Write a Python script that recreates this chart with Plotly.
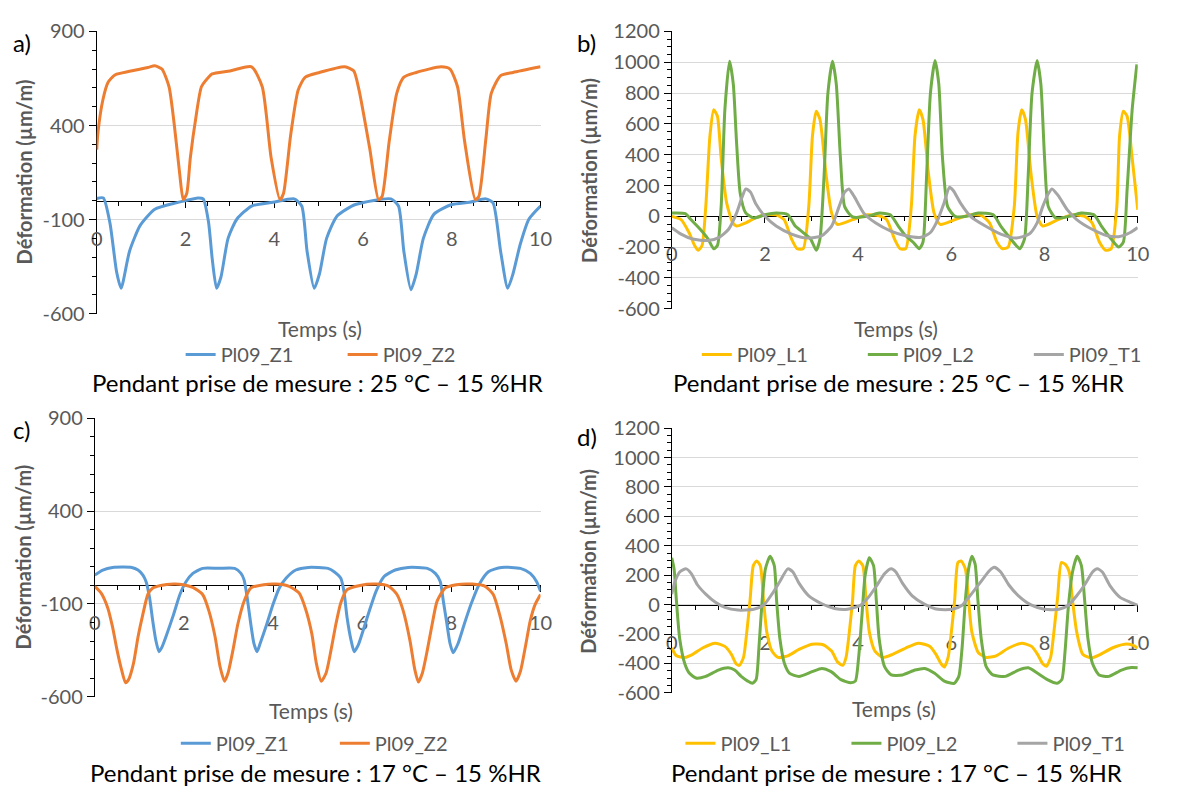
import plotly.graph_objects as go

# ---------------- DATA ----------------
# Panel a : 25 °C – 15 %HR
a_z1_t = [0, 0.15, 0.3, 0.45, 0.55, 0.74, 0.98, 1.31, 1.79, 1.95, 2.28, 2.4, 2.52, 2.6, 2.7, 2.8, 2.96, 3.16, 3.49, 3.97, 4.45, 4.62, 4.74, 4.9, 5.02, 5.18, 5.42, 5.83, 6.63, 6.8, 6.92, 7.08, 7.2, 7.36, 7.6, 8.0, 8.4, 8.77, 8.93, 9.1, 9.26, 9.38, 9.54, 9.74, 10]
a_z1_v = [12, 15, -120, -380, -465, -268, -131, -45, -11, -2, 15, 10, -114, -302, -465, -405, -200, -97, -28, -8, 10, -28, -268, -465, -388, -200, -80, -20, 10, -28, -268, -473, -388, -200, -71, -20, -8, 10, -11, -268, -465, -388, -234, -97, -28]
a_z2_t = [0, 0.03, 0.14, 0.26, 0.42, 0.74, 1.15, 1.31, 1.47, 1.63, 1.75, 1.87, 1.95, 2.03, 2.11, 2.24, 2.36, 2.52, 2.6, 3.0, 3.49, 3.73, 3.93, 4.13, 4.21, 4.37, 4.54, 4.7, 5.02, 5.59, 5.79, 5.91, 6.15, 6.35, 6.43, 6.59, 6.76, 6.92, 7.2, 7.76, 7.96, 8.13, 8.29, 8.53, 8.61, 8.77, 8.89, 9.1, 9.38, 10]
a_z2_v = [272, 366, 537, 631, 670, 688, 708, 717, 700, 606, 400, 143, 6, 40, 229, 451, 606, 657, 674, 690, 712, 606, 229, 6, 40, 349, 589, 657, 682, 712, 691, 589, 280, 6, 23, 315, 571, 657, 682, 712, 700, 606, 315, 6, 23, 332, 571, 665, 682, 712]

# Panel b : 25 °C – 15 %HR
b_l1_t = [0, 0.2, 0.37, 0.49, 0.57, 0.65, 0.73, 0.82, 0.9, 0.98, 1.06, 1.18, 1.31, 1.39, 1.59, 1.8, 2.0, 2.24, 2.41, 2.57, 2.69, 2.82, 2.94, 3.02, 3.1, 3.18, 3.31, 3.43, 3.55, 3.88, 4.2, 4.45, 4.61, 4.78, 4.9, 5.02, 5.14, 5.22, 5.31, 5.39, 5.51, 5.63, 5.76, 6.08, 6.41, 6.65, 6.82, 6.98, 7.1, 7.22, 7.35, 7.43, 7.51, 7.59, 7.71, 7.84, 7.96, 8.29, 8.61, 8.86, 9.02, 9.18, 9.31, 9.43, 9.55, 9.61, 9.69, 9.77, 9.88, 10]
b_l1_v = [0, -21, -105, -189, -220, -189, 63, 524, 692, 650, 378, 84, -42, -63, -42, -10, 10, 10, -21, -147, -210, -210, 63, 524, 682, 629, 273, 21, -52, -21, 10, 4, -21, -147, -210, -210, 63, 524, 692, 629, 273, 21, -52, -21, 10, 4, -42, -168, -210, -199, 63, 545, 692, 629, 273, 0, -63, -21, 10, 0, -42, -168, -220, -210, 63, 524, 682, 650, 378, 42]
b_l2_t = [0, 0.29, 0.41, 0.61, 0.78, 0.9, 0.98, 1.06, 1.14, 1.24, 1.32, 1.39, 1.47, 1.59, 1.76, 2.0, 2.24, 2.49, 2.65, 2.82, 2.98, 3.1, 3.18, 3.27, 3.35, 3.45, 3.53, 3.62, 3.71, 3.88, 4.2, 4.45, 4.69, 4.86, 5.02, 5.18, 5.31, 5.39, 5.47, 5.55, 5.65, 5.73, 5.81, 5.92, 6.08, 6.33, 6.57, 6.9, 7.06, 7.22, 7.39, 7.47, 7.57, 7.65, 7.73, 7.84, 7.92, 8.0, 8.08, 8.24, 8.53, 8.78, 9.06, 9.22, 9.43, 9.59, 9.69, 9.77, 9.88, 9.98]
b_l2_v = [21, 17, -21, -84, -147, -210, -189, 63, 692, 1007, 860, 483, 147, 21, -10, 10, 21, 10, -63, -105, -147, -220, -147, 273, 797, 1007, 860, 378, 63, -4, 0, 21, 10, -63, -126, -168, -210, -168, 273, 797, 1011, 860, 378, 63, 0, 0, 21, 10, -63, -126, -189, -210, -147, 273, 797, 1011, 860, 378, 63, -10, 0, 21, 10, -63, -147, -199, -168, 168, 692, 986]
b_t1_t = [0, 0.2, 0.45, 0.78, 1.02, 1.22, 1.39, 1.51, 1.59, 1.69, 1.8, 2.0, 2.24, 2.57, 2.9, 3.22, 3.43, 3.59, 3.71, 3.8, 3.92, 4.12, 4.37, 4.69, 5.02, 5.35, 5.55, 5.71, 5.84, 5.96, 6.04, 6.2, 6.41, 6.73, 7.06, 7.39, 7.67, 7.84, 7.96, 8.08, 8.16, 8.29, 8.49, 8.69, 9.02, 9.35, 9.59, 9.84, 10]
b_t1_v = [-73, -115, -147, -157, -136, -84, 21, 126, 178, 157, 84, 0, -63, -115, -141, -126, -63, 63, 157, 178, 126, 21, -42, -94, -126, -136, -105, -21, 84, 189, 168, 84, 0, -63, -115, -141, -115, -42, 63, 147, 178, 136, 42, -21, -84, -126, -132, -105, -73]

# Panel c : 17 °C – 15 %HR
c_z1_t = [0, 0.18, 0.4, 0.83, 0.97, 1.08, 1.15, 1.23, 1.3, 1.37, 1.44, 1.51, 1.62, 1.77, 1.91, 2.05, 2.2, 2.42, 2.78, 3.14, 3.28, 3.35, 3.42, 3.5, 3.57, 3.64, 3.71, 3.86, 4.0, 4.14, 4.29, 4.51, 4.79, 5.23, 5.37, 5.52, 5.59, 5.66, 5.75, 5.82, 5.91, 6.02, 6.16, 6.31, 6.49, 6.74, 7.03, 7.46, 7.64, 7.75, 7.82, 7.9, 7.97, 8.04, 8.15, 8.29, 8.44, 8.62, 8.83, 9.12, 9.55, 9.77, 9.91, 10]
c_z1_v = [56, 83, 97, 97, 83, 56, 21, -67, -190, -296, -357, -331, -261, -155, -49, 21, 65, 92, 92, 92, 65, 30, -67, -208, -313, -357, -313, -208, -102, -14, 39, 83, 97, 92, 74, 39, -32, -173, -296, -357, -322, -243, -137, -32, 48, 83, 97, 92, 65, 21, -85, -208, -313, -363, -313, -208, -102, 4, 74, 97, 92, 65, 21, -32]
c_z2_t = [0, 0.14, 0.29, 0.4, 0.5, 0.6, 0.69, 0.76, 0.87, 0.97, 1.08, 1.19, 1.3, 1.48, 1.77, 1.98, 2.2, 2.42, 2.56, 2.7, 2.81, 2.91, 2.99, 3.1, 3.21, 3.35, 3.5, 3.79, 4.07, 4.36, 4.58, 4.72, 4.87, 4.97, 5.08, 5.19, 5.3, 5.41, 5.52, 5.66, 5.95, 6.31, 6.6, 6.78, 6.92, 7.07, 7.18, 7.26, 7.35, 7.46, 7.57, 7.68, 7.86, 8.11, 8.47, 8.76, 8.94, 9.08, 9.23, 9.34, 9.45, 9.55, 9.66, 9.77, 9.88, 10]
c_z2_v = [-5, -40, -120, -225, -349, -454, -525, -507, -419, -278, -155, -49, -14, 0, 7, 4, -11, -49, -137, -278, -437, -516, -472, -349, -208, -85, -14, 4, 7, -5, -40, -120, -261, -419, -516, -472, -349, -208, -93, -23, 0, 7, -5, -49, -137, -296, -454, -521, -472, -349, -208, -85, -14, 4, 7, -5, -49, -155, -313, -454, -516, -463, -331, -190, -102, -49]

# Panel d : 17 °C – 15 %HR
d_l1_t = [0, 0.1, 0.28, 0.45, 0.66, 0.93, 1.14, 1.28, 1.38, 1.45, 1.54, 1.61, 1.68, 1.75, 1.82, 1.9, 1.97, 2.04, 2.15, 2.28, 2.49, 2.73, 3.01, 3.25, 3.43, 3.56, 3.67, 3.74, 3.81, 3.88, 3.94, 4.01, 4.1, 4.17, 4.24, 4.36, 4.53, 4.74, 5.02, 5.29, 5.54, 5.67, 5.78, 5.85, 5.93, 6.0, 6.07, 6.14, 6.21, 6.3, 6.37, 6.44, 6.58, 6.75, 6.96, 7.23, 7.51, 7.72, 7.85, 7.96, 8.04, 8.13, 8.2, 8.28, 8.36, 8.44, 8.53, 8.6, 8.69, 8.82, 9.0, 9.2, 9.45, 9.72, 9.9, 10]
d_l1_v = [-295, -348, -359, -338, -295, -262, -284, -338, -402, -413, -359, -187, 28, 265, 297, 265, 28, -187, -316, -359, -348, -305, -269, -273, -316, -391, -413, -359, -187, 28, 265, 297, 265, 28, -187, -316, -359, -338, -295, -262, -284, -338, -402, -424, -359, -187, 28, 286, 297, 243, 28, -187, -327, -359, -348, -295, -262, -284, -338, -402, -419, -359, -187, 49, 286, 275, 222, 28, -187, -338, -363, -338, -295, -269, -277, -295]
d_l2_t = [0, 0.05, 0.1, 0.17, 0.28, 0.38, 0.52, 0.73, 1.0, 1.21, 1.35, 1.49, 1.63, 1.73, 1.81, 1.87, 1.94, 2.01, 2.11, 2.2, 2.25, 2.32, 2.42, 2.53, 2.73, 3.01, 3.22, 3.42, 3.63, 3.84, 3.94, 4.01, 4.08, 4.15, 4.24, 4.33, 4.39, 4.45, 4.57, 4.71, 4.95, 5.22, 5.43, 5.64, 5.85, 6.06, 6.16, 6.23, 6.3, 6.37, 6.44, 6.51, 6.57, 6.64, 6.75, 6.89, 7.16, 7.44, 7.65, 7.85, 8.06, 8.27, 8.37, 8.44, 8.51, 8.6, 8.7, 8.79, 8.86, 8.93, 9.03, 9.17, 9.38, 9.65, 9.86, 10]
d_l2_v = [318, 243, 28, -230, -402, -467, -499, -488, -445, -430, -445, -488, -520, -535, -510, -295, 28, 243, 329, 265, 28, -230, -402, -467, -488, -456, -434, -456, -510, -531, -520, -359, -80, 200, 318, 265, 28, -230, -424, -478, -478, -445, -434, -467, -520, -535, -488, -295, 28, 243, 329, 275, 28, -230, -424, -478, -488, -445, -430, -467, -510, -535, -510, -316, -15, 222, 329, 265, 28, -230, -402, -478, -488, -445, -428, -430]
d_t1_t = [0, 0.07, 0.17, 0.31, 0.42, 0.55, 0.73, 0.93, 1.14, 1.42, 1.76, 1.97, 2.15, 2.32, 2.49, 2.6, 2.73, 2.94, 3.22, 3.49, 3.77, 4.05, 4.22, 4.39, 4.57, 4.71, 4.81, 4.95, 5.16, 5.43, 5.71, 6.02, 6.23, 6.4, 6.61, 6.82, 6.92, 7.06, 7.23, 7.44, 7.72, 8.0, 8.31, 8.51, 8.69, 8.86, 9.03, 9.13, 9.24, 9.41, 9.62, 9.83, 10]
d_t1_v = [71, 157, 222, 243, 211, 135, 71, 17, -19, -37, -32, -4, 71, 157, 243, 222, 146, 60, 6, -26, -32, -4, 49, 125, 211, 243, 222, 146, 60, 2, -32, -32, -4, 60, 146, 232, 254, 222, 135, 60, -4, -32, -32, -4, 60, 135, 222, 243, 222, 125, 49, 17, -4]

x_ticks = [0, 2, 4, 6, 8, 10]
y_ticks_ac = [-600, -100, 400, 900]
y_ticks_bd = [-600, -400, -200, 0, 200, 400, 600, 800, 1000, 1200]

BLUE, ORANGE, YELLOW, GREEN, GREY = "#5B9BD5", "#ED7D31", "#FFC000", "#70AD47", "#A5A5A5"

# ---------------- LAYOUT GEOMETRY (pixels) ----------------
W, H = 1195, 796
FONT = "Lato, 'Open Sans', sans-serif"
TXT = "#595959"

panels = {
    # name: (x0, x1, ytop, ybottom, yrange)
    "1": (94, 554, 19, 310, [-600, 900]),
    "2": (690, 1173, 19, 305, [-600, 1200]),
    "3": (92, 554, 418, 705, [-600, 900]),
    "4": (690, 1173, 428, 701, [-600, 1200]),
}

def px_x(px):
    return px / W

def px_y(py):
    return 1 - py / H

fig = go.Figure()

series = [
    ("1", "Pl09_Z1", a_z1_t, a_z1_v, BLUE, "legend"),
    ("1", "Pl09_Z2", a_z2_t, a_z2_v, ORANGE, "legend"),
    ("2", "Pl09_L1", b_l1_t, b_l1_v, YELLOW, "legend2"),
    ("2", "Pl09_L2", b_l2_t, b_l2_v, GREEN, "legend2"),
    ("2", "Pl09_T1", b_t1_t, b_t1_v, GREY, "legend2"),
    ("3", "Pl09_Z1", c_z1_t, c_z1_v, BLUE, "legend3"),
    ("3", "Pl09_Z2", c_z2_t, c_z2_v, ORANGE, "legend3"),
    ("4", "Pl09_L1", d_l1_t, d_l1_v, YELLOW, "legend4"),
    ("4", "Pl09_L2", d_l2_t, d_l2_v, GREEN, "legend4"),
    ("4", "Pl09_T1", d_t1_t, d_t1_v, GREY, "legend4"),
]

for p, name, t, v, col, leg in series:
    sfx = "" if p == "1" else p
    fig.add_trace(go.Scatter(
        x=t, y=v, name=name, mode="lines",
        line=dict(color=col, width=3, shape="spline", smoothing=0.6),
        xaxis="x" + sfx, yaxis="y" + sfx, legend=leg,
    ))

layout = dict(
    width=W, height=H, margin=dict(l=0, r=0, t=0, b=0),
    paper_bgcolor="white", plot_bgcolor="white",
    font=dict(family=FONT, color=TXT),
    showlegend=True,
)

for p, (x0, x1, yt, yb, yr) in panels.items():
    sfx = "" if p == "1" else p
    ydom = [px_y(yb), px_y(yt)]
    zero_pos = ydom[0] + (0 - yr[0]) / (yr[1] - yr[0]) * (ydom[1] - ydom[0])
    is_ac = p in ("1", "3")
    yt_vals = y_ticks_ac if is_ac else y_ticks_bd
    layout["xaxis" + sfx] = dict(
        domain=[px_x(x0), px_x(x1)], range=[0, 10], anchor="free", position=zero_pos,
        tickvals=x_ticks, ticktext=[str(v) for v in x_ticks],
        showline=True, linecolor="black", linewidth=1,
        ticks="outside", ticklen=6, tickcolor="black",
        minor=dict(ticks="outside", ticklen=4, dtick=0.5, tick0=0, tickcolor="black", showgrid=False),
        showgrid=False, zeroline=False, layer="below traces",
        tickfont=dict(size=20, color=TXT, family=FONT), ticklabelstandoff=14,
    )
    layout["yaxis" + sfx] = dict(
        domain=ydom, range=yr, anchor="x" + sfx,
        tickvals=yt_vals, ticktext=[str(v) for v in yt_vals],
        showline=True, linecolor="black", linewidth=1,
        ticks="outside", ticklen=7, tickcolor="black",
        minor=dict(ticks="outside", ticklen=4, dtick=100 if is_ac else 50, tickcolor="black", showgrid=False),
        showgrid=True, gridcolor="#D9D9D9", gridwidth=1, zeroline=False,
        tickfont=dict(size=20, color=TXT, family=FONT), layer="below traces",
    )

leg_common = dict(orientation="h", xanchor="left", yanchor="middle",
                  font=dict(size=20, color=TXT, family=FONT), bgcolor="rgba(0,0,0,0)",
                  entrywidthmode="pixels", traceorder="normal", tracegroupgap=0)
layout["legend"] = dict(leg_common, x=px_x(181), y=px_y(352), entrywidth=117)
layout["legend2"] = dict(leg_common, x=px_x(716), y=px_y(352), entrywidth=121)
layout["legend3"] = dict(leg_common, x=px_x(176), y=px_y(753), entrywidth=114)
layout["legend4"] = dict(leg_common, x=px_x(699), y=px_y(753), entrywidth=121)

annotations = []
def ann(text, x, y, size, color, bold=False, angle=0):
    annotations.append(dict(
        text=("<b>%s</b>" % text) if bold else text, x=px_x(x), y=px_y(y),
        xref="paper", yref="paper", showarrow=False, xanchor="center", yanchor="middle",
        textangle=angle, font=dict(size=size, color=color, family=FONT),
    ))

for lbl, x, y in [("a)", 17, 30), ("b)", 602, 30), ("c)", 16, 429), ("d)", 602, 437)]:
    ann(lbl, x, y, 24, "black")
for x, y in [(19, 164), (604, 162), (18, 561), (603, 565)]:
    ann("Déformation (µm/m)", x, y, 20, TXT, bold=True, angle=-90)
for x, y in [(325, 325), (922, 325), (316, 719), (920, 717)]:
    ann("Temps (s)", x, y, 21, TXT)
for x, y, txt in [(323, 381, "Pendant prise de mesure : 25 °C – 15 %HR"),
                  (925, 381, "Pendant prise de mesure : 25 °C – 15 %HR"),
                  (321, 783, "Pendant prise de mesure : 17 °C – 15 %HR"),
                  (923, 783, "Pendant prise de mesure : 17 °C – 15 %HR")]:
    ann(txt, x, y, 24, "black")

layout["annotations"] = annotations
fig.update_layout(**layout)
fig.write_html(
    "out.html",
    config={"displayModeBar": False},
    post_script="document.body.style.margin='0';document.body.style.overflow='hidden';",
)
